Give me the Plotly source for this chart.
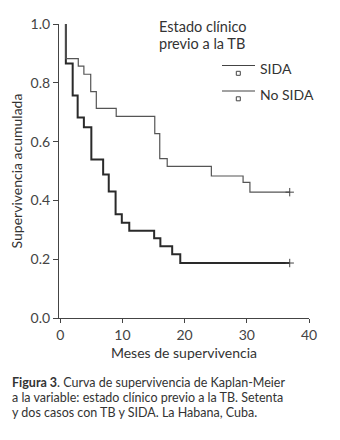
import plotly.graph_objects as go

# ---- data ----
sida_times = [0.9, 0.9, 2.0, 2.8, 3.8, 5.0, 6.9, 7.8, 8.9, 9.9, 11.1, 15.1, 16.1, 18.0, 19.3]
sida_surv = [1.0, 0.866, 0.757, 0.682, 0.649, 0.539, 0.488, 0.430, 0.353, 0.324, 0.297, 0.271, 0.244, 0.217, 0.187]
nosida_times = [0.9, 0.9, 2.9, 3.8, 4.9, 5.8, 9.0, 15.2, 16.0, 17.2, 24.3, 29.4, 30.5]
nosida_surv = [1.0, 0.882, 0.857, 0.829, 0.770, 0.713, 0.686, 0.627, 0.542, 0.516, 0.483, 0.461, 0.428]
sida_end = 36.9
nosida_end = 36.9

x_ticks = [0, 10, 20, 30, 40]
y_ticks = [0.0, 0.2, 0.4, 0.6, 0.8, 1.0]

legend_title_lines = ["Estado clínico", "previo a la TB"]
series_names = ["SIDA", "No SIDA"]
x_title = "Meses de supervivencia"
y_title = "Supervivencia acumulada"
caption_lines = ["<b>Figura 3</b>. Curva de supervivencia de Kaplan-Meier",
                 "a la variable: estado clínico previo a la TB. Setenta",
                 "y dos casos con TB y SIDA. La Habana, Cuba."]

# ---- layout geometry (screen pixels; page body has an 8px margin) ----
OFF = 8
SCR_W, SCR_H = 340, 440
PL, PR, PT, PB = 59, 309, 24, 318        # plot area on screen
W, H = SCR_W - OFF, SCR_H - OFF
L, T = PL - OFF, PT - OFF
R, B = W - (PR - OFF), H - (PB - OFF)
PW, PH = PR - PL, PB - PT
FONT = "Lato, 'Open Sans', sans-serif"
TXT = "#333333"


def px(x):
    return (x - PL) / PW


def py(y):
    return (PB - y) / PH


fig = go.Figure()

fig.add_trace(go.Scatter(
    x=sida_times + [sida_end], y=sida_surv + [sida_surv[-1]],
    mode="lines", line=dict(shape="hv", color="#2a2a2a", width=2),
    name=series_names[0], showlegend=False))
fig.add_trace(go.Scatter(
    x=nosida_times + [nosida_end], y=nosida_surv + [nosida_surv[-1]],
    mode="lines", line=dict(shape="hv", color="#555555", width=1.2),
    name=series_names[1], showlegend=False))
# censor marks at end of follow-up
fig.add_trace(go.Scatter(
    x=[sida_end, nosida_end], y=[sida_surv[-1], nosida_surv[-1]],
    mode="markers", marker=dict(symbol="cross-thin", size=6,
                                line=dict(width=1, color="#444444")),
    showlegend=False))

shapes = []
annotations = []

# manual legend
for i, name in enumerate(series_names):
    ly = 65.5 + i * 25.5
    shapes.append(dict(type="line", xref="paper", yref="paper",
                       x0=px(222), x1=px(255), y0=py(ly), y1=py(ly),
                       line=dict(color="#444444", width=1.2)))
    shapes.append(dict(type="rect", xref="paper", yref="paper",
                       x0=px(236.3), x1=px(240.3), y0=py(ly + 5.8), y1=py(ly + 9.8),
                       line=dict(color="#444444", width=1), fillcolor="white"))
    annotations.append(dict(text=name, xref="paper", yref="paper",
                            x=px(258), y=py(ly + 3.5), xanchor="left", yanchor="middle",
                            showarrow=False, font=dict(family=FONT, size=14, color=TXT)))

for i, line in enumerate(legend_title_lines):
    annotations.append(dict(text=line, xref="paper", yref="paper",
                            x=px(157), y=py(26.5 + i * 17.5), xanchor="left", yanchor="middle",
                            showarrow=False, font=dict(family=FONT, size=14.5, color=TXT)))

for i, line in enumerate(caption_lines):
    annotations.append(dict(text=line, xref="paper", yref="paper",
                            x=px(10), y=py(382.5 + i * 15.1), xanchor="left", yanchor="middle",
                            showarrow=False, font=dict(family=FONT, size=12.5, color=TXT)))

fig.update_layout(
    width=W, height=H,
    margin=dict(l=L, r=R, t=T, b=B, autoexpand=False),
    paper_bgcolor="white", plot_bgcolor="white",
    shapes=shapes, annotations=annotations,
    font=dict(family=FONT, color=TXT),
    xaxis=dict(range=[-0.2, 40], tickvals=x_ticks, ticktext=[str(v) for v in x_ticks],
               automargin=False,
               showline=True, linecolor="#444444", linewidth=1.2,
               ticks="outside", ticklen=4, tickcolor="#444444", tickwidth=1,
               showgrid=False, zeroline=False,
               tickfont=dict(family=FONT, size=14, color="#444444"),
               title=dict(text=x_title, font=dict(family=FONT, size=14, color=TXT), standoff=6)),
    yaxis=dict(range=[0, 1.0], tickvals=y_ticks, ticktext=[f"{v:.1f}" for v in y_ticks],
               automargin=False,
               showline=True, linecolor="#444444", linewidth=1.2,
               ticks="outside", ticklen=5, tickcolor="#444444", tickwidth=1,
               showgrid=False, zeroline=False,
               tickfont=dict(family=FONT, size=14, color="#444444"),
               title=dict(text=y_title, font=dict(family=FONT, size=14, color=TXT), standoff=4)),
)

fig.write_html("out.html")
